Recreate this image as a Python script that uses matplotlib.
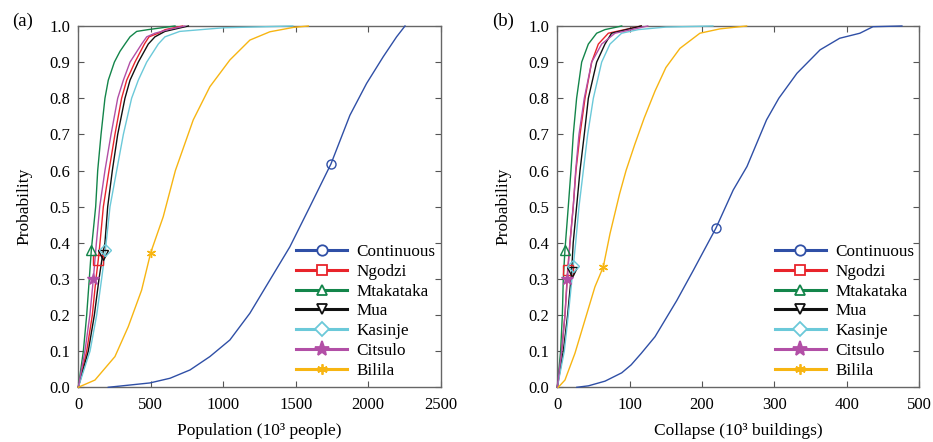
import matplotlib
matplotlib.use("Agg")
import matplotlib.pyplot as plt
from matplotlib.lines import Line2D

plt.rcParams['font.family'] = ['Liberation Serif', 'DejaVu Serif']

names = ["Continuous", "Ngodzi", "Mtakataka", "Mua", "Kasinje", "Citsulo", "Bilila"]
colors = ["#2F4FA6", "#E8242B", "#13854A", "#111111", "#6BC9D9", "#B24FA6", "#F7B512"]
markers = ["o", "s", "^", "v", "D", "*", (6, 2, 0)]

# ---------------- Panel (a): population (10^3 people) ----------------
cont_a_x = [207, 494, 633, 771, 908, 1046, 1184, 1322, 1460, 1598, 1743, 1874, 1989, 2104, 2196, 2254]
cont_a_p = [0, .012, .025, .048, .085, .131, .205, .297, .389, .5, .618, .753, .841, .915, .97, 1.0]

ngodzi_a_x = [0, 58, 97, 122, 138, 150, 173, 212, 253, 299, 334, 391, 456, 488, 552, 600, 720]
ngodzi_a_p = [0, .1, .2, .3, .353, .4, .5, .6, .7, .8, .85, .9, .95, .97, .98, .99, 1.0]

mtak_a_x = [0, 35, 58, 76, 90, 120, 134, 157, 184, 207, 249, 288, 322, 357, 403, 483, 667]
mtak_a_p = [0, .1, .2, .3, .38, .5, .6, .7, .8, .85, .9, .93, .95, .97, .985, .99, 1.0]

mua_a_x = [0, 69, 111, 143, 168, 184, 203, 235, 272, 322, 357, 414, 483, 529, 598, 760]
mua_a_p = [0, .1, .2, .3, .367, .4, .5, .6, .7, .8, .85, .9, .95, .97, .985, 1.0]

kas_a_x = [0, 81, 127, 161, 187, 219, 265, 311, 368, 414, 472, 552, 598, 700, 1000, 1480]
kas_a_p = [0, .1, .2, .3, .38, .5, .6, .7, .8, .85, .9, .95, .97, .985, .995, 1.0]

cits_a_x = [0, 46, 80, 104, 125, 148, 184, 226, 272, 311, 357, 437, 472, 529, 621, 736]
cits_a_p = [0, .1, .2, .3, .4, .5, .6, .7, .8, .85, .9, .95, .97, .98, .99, 1.0]

bil_a_x = [0, 115, 253, 345, 437, 500, 586, 670, 793, 908, 1046, 1184, 1322, 1483, 1587]
bil_a_p = [0, .02, .085, .168, .269, .373, .472, .6, .74, .832, .906, .961, .984, .996, 1.0]

mark_x_a = [1743, 138, 90, 171, 187, 102, 500]
mark_p_a = [0.618, 0.353, 0.38, 0.367, 0.38, 0.30, 0.373]

# ---------------- Panel (b): collapse (10^3 buildings) ----------------
cont_b_x = [27, 43, 66, 89, 102, 116, 135, 165, 188, 219, 243, 262, 289, 306, 331, 363, 390, 418, 436, 476]
cont_b_p = [0, .004, .017, .04, .062, .094, .14, .24, .324, .44, .546, .611, .74, .8, .869, .934, .966, .98, .998, 1.0]

ngodzi_b_x = [0, 6, 10.6, 14.3, 17.5, 22, 25.8, 31.4, 38.3, 47.5, 56.7, 70.5, 116]
ngodzi_b_p = [0, .1, .2, .325, .4, .5, .6, .7, .8, .9, .95, .98, 1.0]

mtak_b_x = [0, 4.6, 7, 8.3, 10.6, 15.2, 18.9, 22.1, 26.7, 33.7, 42.9, 54.4, 65.9, 89]
mtak_b_p = [0, .1, .2, .3, .38, .5, .6, .7, .8, .9, .95, .98, .99, 1.0]

mua_b_x = [0, 8.3, 14.3, 19.8, 22, 26.7, 31.4, 37.3, 42.9, 54.4, 65.9, 75, 116]
mua_b_p = [0, .1, .2, .32, .4, .5, .6, .7, .8, .9, .95, .98, 1.0]

kas_b_x = [0, 9.7, 15.2, 22.1, 25.4, 30, 36, 42, 49.8, 61.3, 72.8, 88.9, 112, 150, 215]
kas_b_p = [0, .1, .2, .336, .4, .5, .6, .7, .8, .9, .95, .98, .99, .997, 1.0]

cits_b_x = [0, 6, 10.6, 13.9, 17.5, 22.1, 25.4, 30, 37.3, 47.5, 61.3, 79.7, 125]
cits_b_p = [0, .1, .2, .3, .4, .5, .6, .7, .8, .9, .95, .98, 1.0]

bil_b_x = [1.4, 10.6, 24.4, 38.2, 52, 63.5, 72.8, 86, 95, 107, 120, 135, 150, 169.4, 197, 224.6, 261.5]
bil_b_p = [0, .02, .094, .186, .278, .333, .425, .535, .6, .672, .745, .82, .885, .938, .98, .992, 1.0]

mark_x_b = [218.7, 14.3, 10.6, 19.8, 22.1, 13.9, 63.5]
mark_p_b = [0.44, 0.325, 0.38, 0.32, 0.336, 0.30, 0.333]

series_a = [(cont_a_x, cont_a_p), (ngodzi_a_x, ngodzi_a_p), (mtak_a_x, mtak_a_p),
            (mua_a_x, mua_a_p), (kas_a_x, kas_a_p), (cits_a_x, cits_a_p), (bil_a_x, bil_a_p)]
series_b = [(cont_b_x, cont_b_p), (ngodzi_b_x, ngodzi_b_p), (mtak_b_x, mtak_b_p),
            (mua_b_x, mua_b_p), (kas_b_x, kas_b_p), (cits_b_x, cits_b_p), (bil_b_x, bil_b_p)]

xticks_a = [0, 500, 1000, 1500, 2000, 2500]
xticks_b = [0, 100, 200, 300, 400, 500]
yticks = [i / 10 for i in range(11)]

fig = plt.figure(figsize=(9.33, 4.42), dpi=100)
ax_a = fig.add_axes([0.0839, 0.1238, 0.3884, 0.8174])
ax_b = fig.add_axes([0.5973, 0.1238, 0.3880, 0.8174])


def draw(ax, series, mx, mp, xticks, xlabel):
    for (sx, sp), c, m, x, p in zip(series, colors, markers, mx, mp):
        ax.plot(sx, sp, color=c, lw=1.0, clip_on=False, zorder=3)
        filled = m in ("*", (6, 2, 0))
        ax.plot([x], [p], linestyle='none', marker=m, ms=6.5 if m != "*" else 9,
                mfc=c if filled else 'none', mec=c, mew=1.0, zorder=4)
    ax.set_xlim(xticks[0], xticks[-1])
    ax.set_ylim(0, 1)
    ax.set_xticks(xticks)
    ax.set_yticks(yticks)
    ax.set_yticklabels([f"{v:.1f}" for v in yticks])
    ax.tick_params(direction='in', top=True, right=True, length=4, width=0.8,
                   color='#555555', labelsize=12)
    ax.tick_params(axis='x', pad=7)
    ax.tick_params(axis='y', pad=6)
    for sp in ax.spines.values():
        sp.set_color('#666666')
        sp.set_linewidth(1.0)
    ax.set_xlabel(xlabel, fontsize=12.5, labelpad=7)
    ax.set_ylabel("Probability", fontsize=12.5, labelpad=12)
    handles = []
    for c, m in zip(colors, markers):
        filled = m in ("*", (6, 2, 0))
        handles.append(Line2D([], [], color=c, lw=2.2, marker=m,
                              ms=7.5 if m != "*" else 11,
                              mfc=c if filled else 'white', mec=c, mew=1.3))
    ax.legend(handles, names, loc='lower right', frameon=False, fontsize=12.3,
              handlelength=3.0, handletextpad=0.55, labelspacing=0.22,
              bbox_to_anchor=(1.0, 0.01), borderaxespad=0.1, borderpad=0.2)


draw(ax_a, series_a, mark_x_a, mark_p_a, xticks_a, "Population (10³ people)")
draw(ax_b, series_b, mark_x_b, mark_p_b, xticks_b, "Collapse (10³ buildings)")

fig.text(12 / 933, 1 - 21 / 442, "(a)", fontsize=13.5, ha='left', va='center')
fig.text(492 / 933, 1 - 21 / 442, "(b)", fontsize=13.5, ha='left', va='center')

fig.savefig("out.png", dpi=100)
